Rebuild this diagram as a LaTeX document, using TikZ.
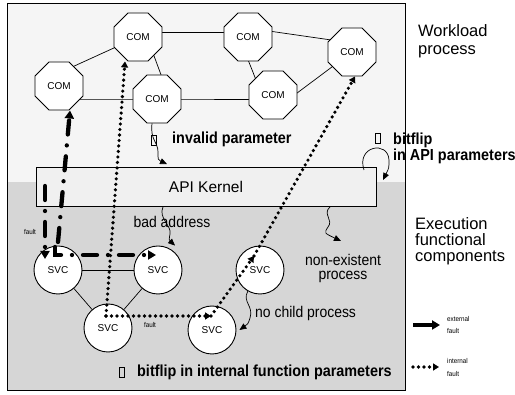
\documentclass[tikz,border=0pt]{standalone}
\usepackage{fontspec}
\setmainfont{Liberation Sans}
\newfontfamily\nsans[FakeStretch=0.9]{Liberation Sans}
\usetikzlibrary{arrows.meta,shapes.geometric,calc}
\pgfdeclarelayer{bgfill}
\pgfdeclarelayer{edges}
\pgfsetlayers{bgfill,edges,main}
\begin{document}
\begin{tikzpicture}[x=1pt,y=-1pt,
  com/.style={regular polygon, regular polygon sides=8, draw, line width=0.9pt, fill=white, minimum size=52pt, inner sep=0pt, font=\fontsize{10}{12}\selectfont},
  svc/.style={circle, draw, line width=0.9pt, fill=white, minimum size=48pt, inner sep=0pt, font=\fontsize{10}{12}\selectfont},
  link/.style={line width=0.7pt},
  extf/.style={line width=4.3pt, line cap=round, dash pattern=on 14pt off 11pt on 0pt off 11pt, -{Triangle[length=8pt,width=9pt]}},
  intf/.style={line width=3.6pt, line cap=round, dash pattern=on 0pt off 5.5pt, -{Triangle[length=6pt,width=7pt]}},
  wavy/.style={line width=0.7pt, -{Triangle[length=7pt,width=6pt]}},
  glyph/.style={draw, line width=0.8pt, minimum width=5pt, minimum height=10pt, inner sep=0pt},
  lbl/.style={font=\nsans\fontsize{15.5}{16}\selectfont, inner sep=0pt},
  blbl/.style={font=\nsans\bfseries\fontsize{16}{16}\selectfont, inner sep=0pt},
  big/.style={font=\fontsize{16.5}{18}\selectfont, inner sep=0pt, anchor=base west},
  tiny/.style={font=\nsans\fontsize{7}{8}\selectfont, inner sep=0pt}
]
\useasboundingbox (0,0) rectangle (515,395);
\begin{pgfonlayer}{bgfill}
\fill[gray!8] (7,3) rectangle (405,182);
\fill[gray!32] (7,182) rectangle (405,390);
\draw[line width=0.8pt] (7,3) rectangle (405,390);
\end{pgfonlayer}

\node[draw, line width=0.9pt, fill=gray!12, minimum width=340pt, minimum height=39pt, inner sep=0pt, font=\fontsize{15.5}{16}\selectfont] (api) at (206,187) {API Kernel};

\node[com] (COM1) at (59,86) {COM};
\node[com] (COM2) at (138,37) {COM};
\node[com] (COM3) at (157,99) {COM};
\node[com] (COM4) at (248,37) {COM};
\node[com] (COM5) at (273,95) {COM};
\node[com] (COM6) at (352,52) {COM};

\node[svc] (SVC1) at (58,270) {SVC};
\node[svc] (SVC2) at (158,270) {SVC};
\node[svc] (SVC3) at (108,328) {SVC};
\node[svc] (SVC4) at (212,330) {SVC};
\node[svc] (SVC5) at (260,270) {SVC};

\begin{pgfonlayer}{edges}
\draw[link] ([yshift=13pt]COM1.center) -- (COM2.center);
\draw[link] ([yshift=-13pt]COM1.center) -- (COM3.center) -- ([yshift=-4pt]COM5.center);
\draw[link] ([xshift=9pt]COM2.center) -- ([xshift=13pt]COM3.center);
\draw[link] ([yshift=5pt]COM2.center) -- ([yshift=5pt]COM4.center);
\draw[link] ([xshift=-9pt]COM4.center) -- ([xshift=-11pt]COM5.center);
\draw[link] ([yshift=9pt]COM4.center) -- ([yshift=9pt]COM6.center);
\draw[link] ([yshift=-16pt]COM5.center) -- (COM6.center);
\draw[link] (SVC1) -- (SVC2);
\draw[link] (SVC1) -- (SVC3);
\draw[link] (SVC2) -- (SVC3);
\end{pgfonlayer}

% internal faults
\coordinate (c3) at (106,316);
\coordinate (c4) at (211,316);
\coordinate (c5) at (254,256);
\draw[intf] (c3) -- ([xshift=-13pt]COM2.south);
\draw[intf] (c3) -- (c4);
\draw[intf] (c4) -- (c5);
\draw[intf] (c5) -- ([xshift=3pt]COM6.south);

% external faults
\coordinate (e1) at (58,242);
\draw[extf] (e1) -- ([xshift=11pt]COM1.south);
\coordinate (e2a) at (45,186);
\coordinate (e2b) at (45,259);
\draw[extf] (e2a) -- (e2b);
\coordinate (e3a) at (55,247);
\coordinate (e3b) at (156,255);
\draw[extf] (e3a) |- (e3b);

% annotation arrows
\draw[wavy] ([xshift=-5pt]COM3.south) .. controls (150,140) and (158,142) .. (158,152) .. controls (158,160) .. ([xshift=-39pt,yshift=3pt]api.north);
\coordinate (w2a) at (364,170);
\coordinate (w2b) at (383,180);
\draw[wavy] (w2a) .. controls (356,146) and (388,140) .. (389,160) .. controls (389,168) .. (w2b);
\draw[wavy] ([xshift=-43pt]api.south) .. controls (158,218) and (172,226) .. (170,234) .. controls (169,240) .. ([xshift=17pt]SVC2.north);
\coordinate (w4b) at (341,241);
\draw[wavy] ([xshift=124pt]api.south) .. controls (322,214) and (334,220) .. (328,227) .. controls (324,233) .. (w4b);
\draw[wavy] (SVC5.-120) .. controls (242,302) and (254,306) .. (250,318) .. controls (248,324) .. ([xshift=3pt]SVC4.east);

% labels
\node[glyph] (g1) at (154,140) {};
\node[blbl, anchor=base west] (tinv) at (172,144) {invalid parameter};
\node[glyph] (g2) at (378,138) {};
\node[blbl, anchor=base west] (tbf1) at (393,145) {bitflip};
\node[blbl, anchor=base west] (tbf2) at (393,161) {in API parameters};
\node[glyph] (g3) at (121.5,372) {};
\node[blbl, anchor=base west] (tbf3) at (137,377) {bitflip in internal function parameters};
\node[lbl, anchor=base] (tbad) at (172,228) {bad address};
\node[lbl, anchor=base] (tne1) at (343,266) {non-existent};
\node[lbl, anchor=base] (tne2) at (343,280) {process};
\node[lbl, anchor=base west] (tnc) at (255,318) {no child process};
\node[tiny] (tf1) at (30,232) {fault};
\node[tiny] (tf2) at (150,325) {fault};

\node[big] (tw1) at (418,37) {Workload};
\node[big] (tw2) at (418,55) {process};
\node[big] (te1) at (415,230) {Execution};
\node[big] (te2) at (415,246) {functional};
\node[big] (te3) at (415,262) {components};

% legend
\coordinate (lx1) at (413,325);
\coordinate (lx2) at (440,325);
\draw[line width=4.5pt, -{Triangle[length=8pt,width=9pt]}] (lx1) -- (lx2);
\node[tiny, anchor=base west] (lext1) at (447,322) {external};
\node[tiny, anchor=base west] (lext2) at (447,334) {fault};
\coordinate (li1) at (413,367);
\coordinate (li2) at (439,367);
\draw[intf] (li1) -- (li2);
\node[tiny, anchor=base west] (lint1) at (447,364) {internal};
\node[tiny, anchor=base west] (lint2) at (447,377) {fault};
\end{tikzpicture}
\end{document}
